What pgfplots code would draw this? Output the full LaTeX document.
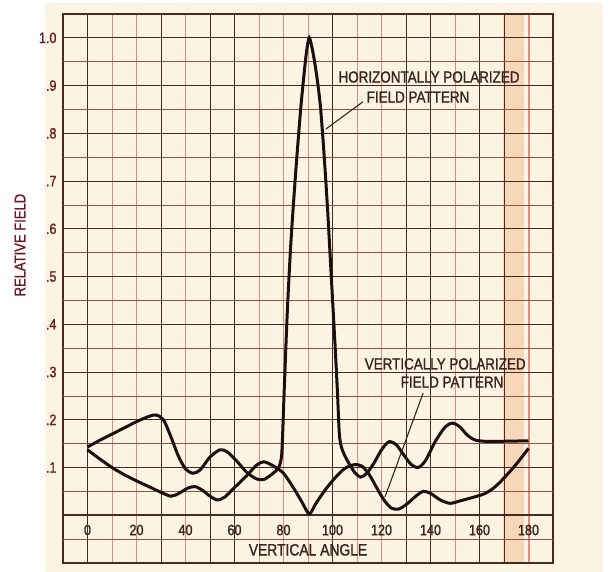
\documentclass[border=0pt]{standalone}
\usepackage{pgfplots}
\pgfplotsset{compat=1.18}
\usepackage{fontspec}
\setmainfont{Liberation Sans}
\newfontfamily\condfont{Liberation Sans}[FakeStretch=0.84, FakeBold=1.2]
\definecolor{paper}{HTML}{FBF4E2}
\definecolor{darkgrid}{HTML}{4A2822}
\definecolor{redgrid}{HTML}{DC8E7E}
\definecolor{midgrid}{HTML}{8A5448}
\definecolor{labelcol}{HTML}{6B1A28}
\definecolor{inkcol}{HTML}{3A2420}
\definecolor{curvecol}{HTML}{1C100E}
\definecolor{band}{HTML}{F8D6B8}
\definecolor{bandred}{HTML}{EC8A7C}
\begin{document}
\begin{tikzpicture}
\path[use as bounding box] (-63pt,-9pt) rectangle (547pt,563pt);
\fill[white] (-63pt,-9pt) rectangle (547pt,563pt);
\fill[paper] (-18pt,-9pt) rectangle (540pt,560pt);
\fill[band] (440pt,0pt) rectangle (461pt,549pt);
\fill[bandred] (464.5pt,0pt) rectangle (466.5pt,549pt);
\begin{axis}[
  at={(0pt,0pt)}, anchor=south west,
  scale only axis, width=490pt, height=549pt,
  xmin=-10, xmax=190, ymin=-0.1, ymax=1.05,
  axis line style={darkgrid, line width=1.3pt},
  grid=both,
  major tick length=0pt, minor tick length=0pt,
  xtick={0,20,...,180},
  xticklabels={0,20,40,60,80,100,120,140,160,180},
  minor xtick={10,30,50,70,90,110,130,150,170},
  extra x ticks={0,30,50,60,100,130,140,160,170},
  extra x tick labels={},
  extra x tick style={grid=major, major grid style={darkgrid, line width=1pt}},
  ytick={0.1,0.2,0.3,0.4,0.5,0.6,0.7,0.8,0.9,1.0},
  yticklabels={.1,.2,.3,.4,.5,.6,.7,.8,.9,1.0},
  minor ytick={-0.05,0.05,0.15,0.25,0.35,0.45,0.55,0.65,0.75,0.85,0.95},
  extra y ticks={0},
  extra y tick labels={},
  extra y tick style={grid=major, major grid style={darkgrid, line width=1.8pt}},
  major grid style={redgrid, line width=0.9pt},
  minor grid style={redgrid, line width=0.8pt},
  yticklabel style={font=\condfont\fontsize{15}{17}\selectfont, text=labelcol, xshift=-3pt},
  xticklabel style={font=\condfont\fontsize{15}{17}\selectfont, text=inkcol, anchor=center, yshift=33pt},
  ylabel={RELATIVE FIELD},
  ylabel style={at={(axis description cs:-0.0878,0.579)}, anchor=center, font=\condfont\fontsize{15.5}{17}\selectfont, text=labelcol},
  xlabel={VERTICAL ANGLE},
  xlabel style={at={(axis description cs:0.5,0.024)}, anchor=center, font=\condfont\fontsize{16.5}{18}\selectfont, text=inkcol},
  clip=true,
]
% dark horizontal lines at tenths
\pgfplotsinvokeforeach{0.1,0.2,0.3,0.4,0.5,0.6,0.7,0.8,0.9,1.0}{
  \draw[darkgrid, line width=1pt] (axis cs:-10,#1) -- (axis cs:190,#1);
}
\pgfplotsinvokeforeach{-0.05,0.05,0.15,0.25,0.35,0.45,0.55,0.65,0.75,0.85,0.95}{
  \draw[midgrid, line width=0.8pt] (axis cs:-10,#1) -- (axis cs:190,#1);
}
% Horizontally polarized
\addplot[curvecol, line width=3pt, smooth, tension=0.45] coordinates {
(0,0.143)(5,0.157)(10,0.17)(15,0.183)(20,0.196)(25,0.207)(28,0.21)(31,0.2)(34,0.165)(37,0.125)(40,0.097)(43,0.088)(46,0.095)(50,0.122)(54,0.137)(57,0.133)(61,0.113)(65,0.09)(69,0.076)(72,0.075)(75,0.085)(78,0.1)(79.3,0.13)(80.2,0.25)(81.5,0.42)(83,0.57)(85,0.72)(87,0.85)(88.5,0.93)(89.5,0.975)(90.5,1.0)(91.7,0.978)(93.3,0.93)(95,0.86)(96.5,0.76)(98,0.64)(99.5,0.5)(101,0.36)(102,0.26)(102.8,0.17)(103.8,0.14)(106,0.115)(109,0.09)(111.5,0.08)(114,0.088)(117,0.11)(120,0.137)(123,0.154)(126,0.148)(129,0.127)(132,0.107)(135,0.1)(138,0.115)(142,0.155)(146,0.185)(149,0.193)(152,0.185)(155,0.168)(158,0.158)(162,0.155)(170,0.155)(180,0.156)
};
% Vertically polarized
\addplot[curvecol, line width=3pt, smooth, tension=0.45] coordinates {
(0,0.137)(5,0.118)(10,0.1)(15,0.085)(20,0.072)(25,0.06)(30,0.048)(34,0.04)(37,0.045)(41,0.057)(44,0.06)(47,0.052)(50,0.04)(53,0.032)(56,0.038)(60,0.058)(65,0.083)(69,0.105)(72,0.112)(76,0.103)(80,0.088)(84,0.058)(87.5,0.028)(90.5,0.003)(93.5,0.027)(97,0.053)(101,0.078)(105,0.098)(109,0.106)(112,0.103)(115,0.085)(118,0.058)(121,0.032)(124,0.015)(127,0.013)(130,0.022)(134,0.04)(137,0.05)(140,0.046)(144,0.032)(148,0.025)(152,0.03)(157,0.037)(162,0.045)(166,0.058)(170,0.078)(175,0.107)(180,0.14)
};
% annotations
\node[font=\condfont\fontsize{16}{18}\selectfont, text=inkcol] at (axis cs:139.4,0.918) {HORIZONTALLY POLARIZED};
\node[font=\condfont\fontsize{16}{18}\selectfont, text=inkcol] at (axis cs:134.9,0.876) {FIELD PATTERN};
\draw[inkcol, line width=1.1pt] (axis cs:112.4,0.866) -- (axis cs:97.3,0.809);
\node[font=\condfont\fontsize{16}{18}\selectfont, text=inkcol] at (axis cs:146,0.317) {VERTICALLY POLARIZED};
\node[font=\condfont\fontsize{16}{18}\selectfont, text=inkcol] at (axis cs:148.8,0.279) {FIELD PATTERN};
\draw[inkcol, line width=1.1pt] (axis cs:137,0.256) -- (axis cs:121.4,0.038);
\end{axis}
\end{tikzpicture}
\end{document}
